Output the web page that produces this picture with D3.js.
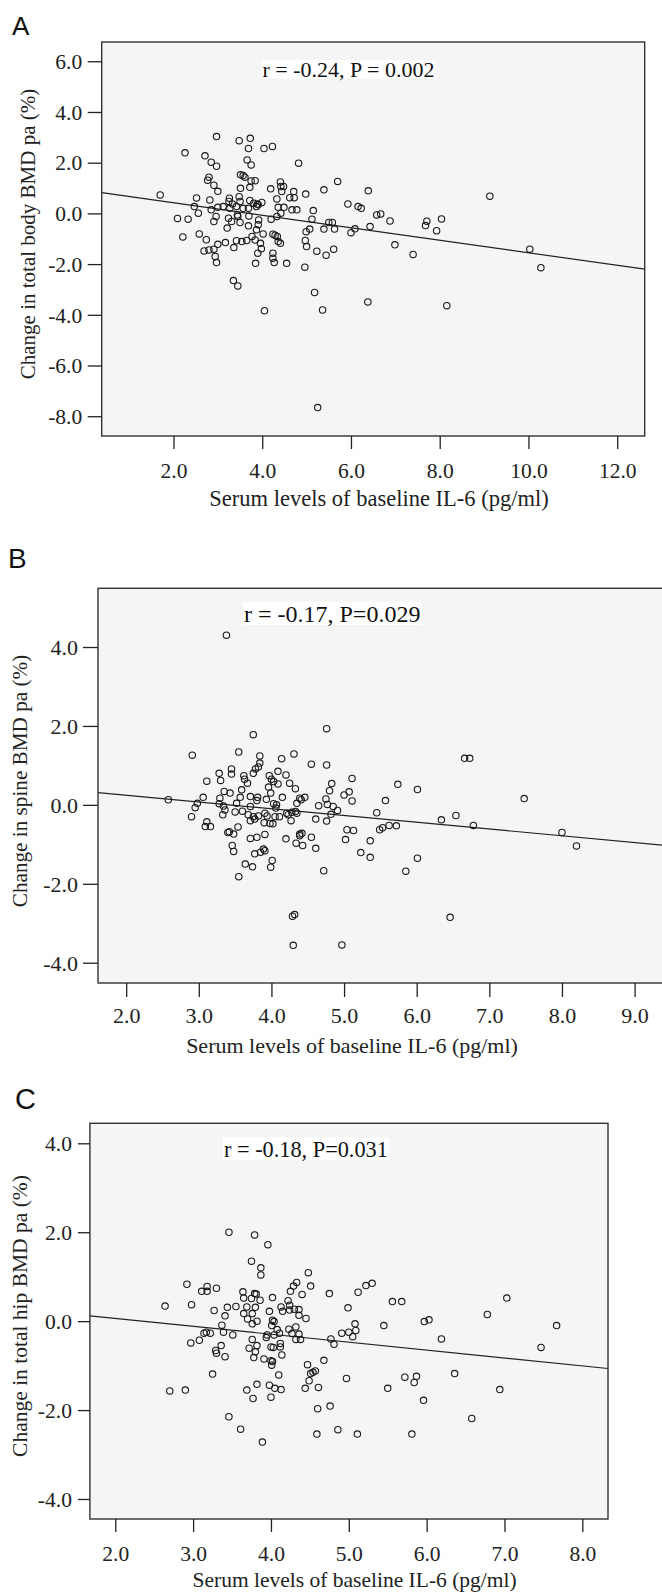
<!DOCTYPE html>
<html>
<head>
<meta charset="utf-8">
<script src="https://cdn.jsdelivr.net/npm/d3@7"></script>
<style>
  body { margin: 0; background: #fff; }
</style>
</head>
<body>
<script>
//points: [baseline IL-6 (pg/ml), change in BMD pa (%)]
var pointsA = [[2.97,3.03],[2.26,2.39],[3.48,2.87],[3.73,2.96],[3.69,2.56],[4.04,2.56],[4.23,2.64],[2.71,2.27],[2.85,2.02],[2.97,1.86],[3.66,2.11],[3.75,1.91],[4.82,1.98],[2.80,1.43],[2.77,1.31],[2.91,1.11],[3.00,0.87],[3.51,1.52],[3.57,1.49],[3.61,1.43],[3.75,1.28],[3.84,1.29],[3.72,1.03],[3.51,0.99],[4.41,1.24],[4.42,1.06],[4.48,1.06],[4.19,0.97],[4.44,0.86],[4.71,0.86],[4.62,0.62],[4.72,0.62],[4.98,0.76],[5.70,1.26],[5.39,0.93],[6.39,0.89],[1.70,0.73],[2.52,0.61],[2.82,0.53],[3.26,0.60],[3.25,0.47],[3.48,0.66],[3.50,0.47],[3.72,0.51],[3.81,0.40],[3.89,0.37],[3.99,0.43],[3.87,0.27],[3.91,0.34],[4.33,0.57],[2.47,0.27],[2.56,0.01],[2.85,0.14],[3.00,0.24],[3.12,0.27],[3.27,0.20],[3.33,0.37],[3.42,0.27],[3.57,0.20],[3.69,0.20],[4.36,0.24],[4.49,0.24],[4.67,0.14],[4.78,0.14],[4.42,0.01],[4.33,-0.12],[5.15,0.11],[5.93,0.37],[6.16,0.27],[6.23,0.20],[2.09,-0.20],[2.33,-0.23],[2.96,-0.12],[2.91,-0.32],[3.24,-0.19],[3.31,-0.32],[3.44,-0.06],[3.45,-0.12],[3.50,-0.36],[3.70,-0.10],[3.69,-0.49],[3.92,-0.26],[4.20,-0.23],[3.21,-0.58],[3.91,-0.45],[3.87,-0.65],[5.12,-0.23],[5.50,-0.36],[5.58,-0.36],[5.39,-0.62],[5.63,-0.62],[5.07,-0.62],[4.99,-0.72],[6.00,-0.76],[6.09,-0.61],[6.43,-0.52],[6.58,-0.06],[6.67,-0.02],[6.88,-0.30],[2.21,-0.93],[2.58,-0.81],[2.74,-1.04],[3.17,-1.15],[3.00,-1.22],[2.69,-1.48],[2.80,-1.44],[2.91,-1.41],[2.94,-1.70],[2.97,-1.94],[3.36,-1.35],[3.42,-1.08],[3.54,-1.11],[3.65,-1.07],[3.77,-0.91],[3.84,-1.05],[3.90,-1.57],[3.98,-1.39],[3.96,-1.18],[4.02,-0.81],[4.24,-0.82],[4.29,-0.86],[4.34,-0.91],[4.36,-1.11],[4.41,-1.18],[4.24,-1.57],[4.24,-1.77],[4.27,-1.94],[3.85,-1.97],[4.55,-1.97],[4.96,-2.12],[4.97,-1.07],[5.00,-1.31],[5.23,-1.49],[5.44,-1.65],[5.61,-1.41],[6.99,-1.24],[3.35,-2.65],[3.45,-2.86],[5.18,-3.12],[5.36,-3.81],[4.05,-3.84],[6.38,-3.49],[7.40,-1.62],[7.71,-0.31],[7.68,-0.48],[8.04,-0.22],[7.93,-0.68],[9.13,0.68],[10.03,-1.41],[10.28,-2.14],[8.16,-3.64],[5.25,-7.66]];

var pointsB = [[4.76,1.93],[3.75,1.78],[2.91,1.26],[3.55,1.34],[3.84,1.24],[4.31,1.29],[4.14,1.17],[4.55,1.03],[4.76,1.01],[3.84,1.06],[3.82,0.96],[3.78,0.91],[3.45,0.91],[3.45,0.78],[3.28,0.80],[3.11,0.60],[3.30,0.62],[3.62,0.74],[3.63,0.65],[3.67,0.55],[3.75,0.80],[3.97,0.74],[4.00,0.65],[4.03,0.59],[4.09,0.85],[4.20,0.76],[4.09,0.53],[4.25,0.55],[4.33,0.41],[4.83,0.54],[4.80,0.36],[5.11,0.67],[5.00,0.25],[5.07,0.33],[5.11,0.10],[5.57,0.11],[5.74,0.52],[3.35,0.34],[3.43,0.30],[3.59,0.38],[3.57,0.19],[3.71,0.21],[3.81,0.19],[3.93,0.14],[3.96,0.45],[3.99,0.30],[4.15,0.19],[4.35,0.04],[4.41,0.13],[4.39,0.17],[4.46,0.19],[4.75,0.15],[4.65,-0.02],[4.77,0.01],[4.85,-0.04],[4.91,-0.14],[4.82,-0.24],[3.06,0.19],[2.98,0.04],[2.95,-0.07],[3.29,0.17],[3.28,0.03],[3.34,-0.03],[3.36,-0.13],[3.33,-0.25],[3.52,0.04],[3.50,-0.18],[3.60,-0.16],[3.71,-0.04],[3.68,-0.25],[3.80,0.11],[3.91,-0.21],[3.94,-0.28],[4.03,0.03],[4.06,-0.08],[4.07,0.00],[4.21,-0.21],[4.28,-0.19],[4.23,-0.25],[4.33,-0.17],[4.35,-0.21],[3.75,-0.30],[3.82,-0.28],[3.71,-0.40],[3.77,-0.36],[3.90,-0.45],[3.98,-0.47],[4.02,-0.48],[4.05,-0.30],[4.11,-0.30],[4.27,-0.40],[4.61,-0.36],[4.76,-0.41],[5.45,-0.20],[5.62,-0.52],[5.72,-0.53],[5.49,-0.63],[5.53,-0.58],[5.04,-0.63],[5.13,-0.65],[2.90,-0.30],[3.11,-0.43],[3.09,-0.55],[3.16,-0.55],[3.54,-0.56],[3.40,-0.70],[3.42,-0.68],[3.48,-0.74],[3.91,-0.75],[3.71,-0.85],[3.80,-0.82],[4.20,-0.86],[4.39,-0.74],[4.42,-0.72],[4.39,-0.78],[4.55,-0.82],[4.34,-0.97],[4.43,-1.03],[4.61,-1.10],[5.02,-0.88],[5.36,-0.91],[3.46,-1.03],[3.48,-1.18],[3.77,-1.24],[3.85,-1.20],[3.89,-1.12],[3.91,-1.16],[4.01,-1.41],[3.99,-1.58],[3.64,-1.50],[3.74,-1.57],[3.55,-1.82],[4.72,-1.67],[5.23,-1.21],[5.36,-1.33],[2.58,0.13],[3.38,4.30],[4.29,-2.82],[4.32,-2.78],[4.30,-3.56],[4.97,-3.55],[6.46,-2.85],[5.85,-1.68],[6.01,0.39],[6.01,-1.35],[6.34,-0.38],[6.54,-0.27],[6.66,1.18],[6.73,1.18],[6.78,-0.52],[7.48,0.16],[8.00,-0.70],[8.20,-1.04]];

var pointsC = [[3.46,2.00],[3.79,1.94],[3.96,1.72],[3.75,1.35],[3.87,1.20],[3.87,1.04],[4.48,1.09],[2.92,0.83],[3.18,0.78],[3.18,0.67],[3.11,0.67],[3.30,0.74],[4.33,0.87],[4.29,0.79],[4.25,0.67],[4.51,0.79],[4.40,0.60],[4.75,0.62],[5.12,0.65],[5.22,0.80],[5.30,0.85],[2.64,0.34],[2.98,0.37],[3.64,0.66],[3.65,0.52],[3.75,0.51],[3.79,0.62],[3.81,0.61],[3.86,0.47],[4.02,0.53],[4.22,0.46],[4.24,0.36],[3.44,0.31],[3.55,0.33],[3.69,0.32],[3.80,0.31],[3.27,0.24],[3.41,0.12],[3.65,0.17],[3.76,0.17],[3.70,0.05],[3.76,-0.06],[3.82,0.00],[3.98,0.22],[4.13,0.32],[4.15,0.22],[4.24,0.25],[4.30,0.27],[4.36,0.26],[4.36,0.13],[4.45,0.06],[4.99,0.30],[4.02,0.02],[4.04,-0.01],[4.01,-0.10],[3.37,-0.09],[3.39,-0.25],[3.51,-0.31],[3.14,-0.27],[3.17,-0.25],[3.22,-0.27],[2.97,-0.49],[3.08,-0.43],[4.08,-0.19],[4.11,-0.27],[4.23,-0.18],[4.32,-0.13],[4.27,-0.28],[4.36,-0.29],[3.95,-0.31],[3.94,-0.37],[4.04,-0.31],[4.32,-0.41],[4.38,-0.41],[4.77,-0.40],[4.81,-0.52],[4.91,-0.27],[5.00,-0.25],[5.08,-0.06],[5.09,-0.21],[5.05,-0.35],[3.36,-0.55],[3.29,-0.66],[3.30,-0.72],[3.41,-0.80],[3.76,-0.41],[3.72,-0.61],[3.82,-0.55],[3.80,-0.69],[3.78,-0.82],[4.00,-0.58],[4.03,-0.59],[4.12,-0.50],[4.12,-0.58],[4.14,-0.76],[3.91,-0.85],[4.00,-0.89],[4.02,-0.91],[4.01,-0.99],[3.25,-1.19],[4.10,-1.21],[4.47,-0.98],[4.68,-0.88],[4.57,-1.12],[4.54,-1.15],[4.51,-1.18],[4.49,-1.34],[4.97,-1.29],[2.70,-1.57],[2.90,-1.55],[3.69,-1.55],[3.82,-1.42],[3.98,-1.44],[4.05,-1.51],[4.13,-1.54],[3.77,-1.74],[4.00,-1.71],[4.44,-1.51],[4.61,-1.49],[4.60,-1.97],[4.76,-1.91],[3.46,-2.15],[3.61,-2.43],[4.86,-2.44],[5.56,0.44],[5.68,0.44],[6.78,0.15],[7.03,0.52],[5.97,-0.01],[6.03,0.03],[5.45,-0.10],[6.19,-0.40],[7.67,-0.10],[7.47,-0.59],[6.36,-1.18],[5.72,-1.26],[5.87,-1.24],[5.84,-1.38],[5.50,-1.51],[6.94,-1.54],[5.96,-1.78],[6.58,-2.19],[5.81,-2.54],[5.11,-2.54],[4.59,-2.54],[3.89,-2.72]];

//fitted lines as [intercept, slope]
var fitA = [0.916, -0.247];
var fitB = [0.585, -0.171];
var fitC = [0.418, -0.178];

//tick values
var xTicksA = [2, 4, 6, 8, 10, 12];
var yTicksA = [-8, -6, -4, -2, 0, 2, 4, 6];
var xTicksB = [2, 3, 4, 5, 6, 7, 8, 9];
var yTicksB = [-4, -2, 0, 2, 4];
var xTicksC = [2, 3, 4, 5, 6, 7, 8];
var yTicksC = [-4, -2, 0, 2, 4];

//labels
var notes = ["r = -0.24, P = 0.002", "r = -0.17, P=0.029", "r = -0.18, P=0.031"];
var yTitles = ["Change in total body BMD pa (%)", "Change in spine BMD pa (%)", "Change in total hip BMD pa (%)"];
var xTitle = "Serum levels of baseline IL-6 (pg/ml)";

var serif = "'Liberation Serif', 'Times New Roman', serif",
    sans = "'Liberation Sans', Arial, sans-serif";

var svg = d3.select("body")
    .append("svg")
    .attr("width", 662)
    .attr("height", 1593);

drawPanel({
    id: "A", points: pointsA, fit: fitA, xTicks: xTicksA, yTicks: yTicksA,
    xDomain: [0.382, 12.62], yDomain: [-8.78, 6.76],
    left: 101.7, right: 644.7, top: 42, bottom: 436,
    letterX: 12, letterY: 35, letterSize: 26,
    note: notes[0], noteX: 262.5, noteY: 76.5, noteSize: 22, noteBox: [60, 78.5],
    yTitle: yTitles[0], yTitleX: 35, yTitleY: 234, yTitleSize: 21,
    xTitleX: 379, xTitleY: 506, xTitleSize: 22.5,
    yTickLen: 14, yGap: 5.5, xTickLen: 13, xLabelY: 42, tickSize: 21.5
});

drawPanel({
    id: "B", points: pointsB, fit: fitB, xTicks: xTicksB, yTicks: yTicksB,
    xDomain: [1.612, 9.46], yDomain: [-4.514, 5.488],
    left: 98, right: 668, top: 588.3, bottom: 983,
    letterX: 8, letterY: 568, letterSize: 28,
    note: notes[1], noteX: 244, noteY: 621.5, noteSize: 24, noteBox: [601.7, 625],
    yTitle: yTitles[1], yTitleX: 27, yTitleY: 781, yTitleSize: 21.2,
    xTitleX: 352, xTitleY: 1053, xTitleSize: 22,
    yTickLen: 15, yGap: 5, xTickLen: 14, xLabelY: 40, tickSize: 22
});

drawPanel({
    id: "C", points: pointsC, fit: fitC, xTicks: xTicksC, yTicks: yTicksC,
    xDomain: [1.674, 8.33], yDomain: [-4.45, 4.45],
    left: 89.9, right: 608, top: 1123.3, bottom: 1519,
    letterX: 15, letterY: 1109, letterSize: 29,
    note: notes[2], noteX: 224, noteY: 1157, noteSize: 22.3, noteBox: [1137.3, 1160],
    yTitle: yTitles[2], yTitleX: 27, yTitleY: 1316, yTitleSize: 21.5,
    xTitleX: 354.6, xTitleY: 1587, xTitleSize: 21.5,
    yTickLen: 12, yGap: 6, xTickLen: 13, xLabelY: 42, tickSize: 21.5
});

//one scatter panel with frame, fit line, note, axes and titles
function drawPanel(p){

    var x = d3.scaleLinear().domain(p.xDomain).range([p.left, p.right]);
    var y = d3.scaleLinear().domain(p.yDomain).range([p.bottom, p.top]);

    var g = svg.append("g").attr("class", "panel" + p.id);

    //clip marks to the plot frame
    g.append("clipPath")
        .attr("id", "clip" + p.id)
        .append("rect")
        .attr("x", p.left)
        .attr("y", p.top)
        .attr("width", p.right - p.left)
        .attr("height", p.bottom - p.top);

    //grey plot background
    g.append("rect")
        .attr("x", p.left)
        .attr("y", p.top)
        .attr("width", p.right - p.left)
        .attr("height", p.bottom - p.top)
        .attr("fill", "#f5f5f5");

    var marks = g.append("g").attr("clip-path", "url(#clip" + p.id + ")");

    //regression line across the whole frame
    marks.append("line")
        .attr("x1", x(p.xDomain[0]))
        .attr("y1", y(p.fit[0] + p.fit[1] * p.xDomain[0]))
        .attr("x2", x(p.xDomain[1]))
        .attr("y2", y(p.fit[0] + p.fit[1] * p.xDomain[1]))
        .attr("stroke", "#222")
        .attr("stroke-width", 1.2);

    marks.selectAll("circle")
        .data(p.points)
        .enter()
        .append("circle")
        .attr("cx", function(d){ return x(d[0]); })
        .attr("cy", function(d){ return y(d[1]); })
        .attr("r", 3.2)
        .attr("fill", "none")
        .attr("stroke", "#1a1a1a")
        .attr("stroke-width", 1.1);

    //correlation note on a white box
    var box = g.append("rect")
        .attr("fill", "#fff")
        .attr("y", p.noteBox[0])
        .attr("height", p.noteBox[1] - p.noteBox[0]);
    var note = g.append("text")
        .attr("x", p.noteX)
        .attr("y", p.noteY)
        .attr("font-family", serif)
        .attr("font-size", p.noteSize)
        .attr("fill", "#111")
        .text(p.note);
    var w = note.node().getComputedTextLength();
    box.attr("x", p.noteX - 1).attr("width", w + 2);

    //frame
    g.append("rect")
        .attr("x", p.left)
        .attr("y", p.top)
        .attr("width", p.right - p.left)
        .attr("height", p.bottom - p.top)
        .attr("fill", "none")
        .attr("stroke", "#333")
        .attr("stroke-width", 1.4);

    var fmt = function(d){ return d.toFixed(1); };

    var yAxis = g.append("g")
        .attr("transform", "translate(" + p.left + ",0)")
        .call(d3.axisLeft(y)
            .tickValues(p.yTicks)
            .tickSize(p.yTickLen)
            .tickPadding(p.yGap)
            .tickFormat(fmt));

    var xAxis = g.append("g")
        .attr("transform", "translate(0," + p.bottom + ")")
        .call(d3.axisBottom(x)
            .tickValues(p.xTicks)
            .tickSize(p.xTickLen)
            .tickFormat(fmt));

    [yAxis, xAxis].forEach(function(a){
        a.select(".domain").remove();
        a.attr("font-family", serif)
            .attr("font-size", p.tickSize)
            .attr("color", "#222");
        a.selectAll(".tick line").attr("stroke-width", 1.3);
    });
    yAxis.selectAll(".tick text").attr("dy", "0.34em");
    xAxis.selectAll(".tick text").attr("y", p.xLabelY).attr("dy", null);

    //panel letter
    g.append("text")
        .attr("x", p.letterX)
        .attr("y", p.letterY)
        .attr("font-family", sans)
        .attr("font-size", p.letterSize)
        .attr("fill", "#111")
        .text(p.id);

    //axis titles
    g.append("text")
        .attr("transform", "translate(" + p.yTitleX + "," + p.yTitleY + ") rotate(-90)")
        .attr("text-anchor", "middle")
        .attr("font-family", serif)
        .attr("font-size", p.yTitleSize)
        .attr("fill", "#222")
        .text(p.yTitle);

    g.append("text")
        .attr("x", p.xTitleX)
        .attr("y", p.xTitleY)
        .attr("text-anchor", "middle")
        .attr("font-family", serif)
        .attr("font-size", p.xTitleSize)
        .attr("fill", "#222")
        .text(xTitle);
};
</script>
</body>
</html>
